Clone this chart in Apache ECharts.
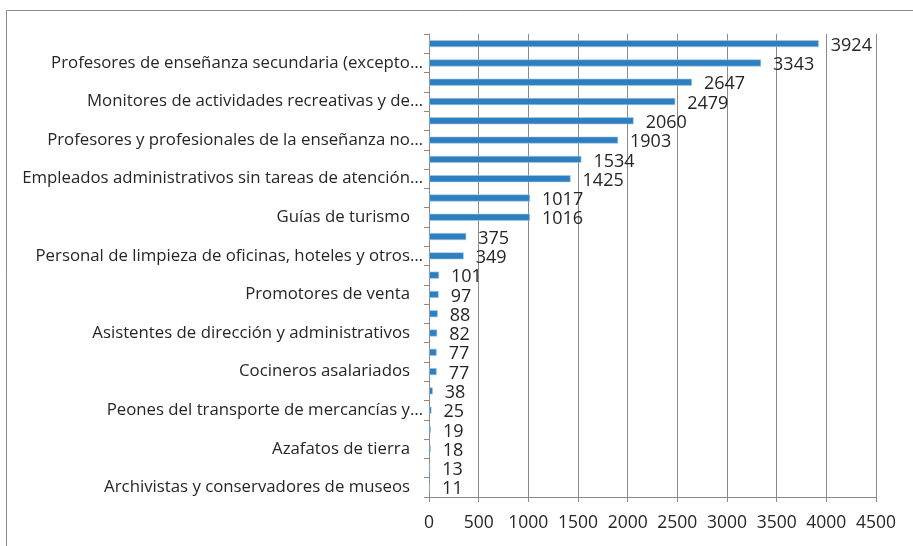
<!DOCTYPE html>
<html>
<head>
<meta charset="utf-8">
<script src="https://cdn.jsdelivr.net/npm/echarts@6/dist/echarts.min.js"></script>
<style>
html,body{margin:0;padding:0;background:#fff;}
#chart{width:913px;height:546px;}
</style>
</head>
<body>
<div id="chart"></div>
<script>
const categories = [
  '',
  'Profesores de enseñanza secundaria (excepto…',
  '',
  'Monitores de actividades recreativas y de…',
  '',
  'Profesores y profesionales de la enseñanza no…',
  '',
  'Empleados administrativos sin tareas de atención…',
  '',
  'Guías de turismo',
  '',
  'Personal de limpieza de oficinas, hoteles y otros…',
  '',
  'Promotores de venta',
  '',
  'Asistentes de dirección y administrativos',
  '',
  'Cocineros asalariados',
  '',
  'Peones del transporte de mercancías y…',
  '',
  'Azafatos de tierra',
  '',
  'Archivistas y conservadores de museos'
];
const values = [3924, 3343, 2647, 2479, 2060, 1903, 1534, 1425, 1017, 1016, 375, 349, 101, 97, 88, 82, 77, 77, 38, 25, 19, 18, 13, 11];
const xTicks = [0, 500, 1000, 1500, 2000, 2500, 3000, 3500, 4000, 4500];

const chart = echarts.init(document.getElementById('chart'));
const gray = '#8a8a8a';
const textColor = '#262626';
const font = '"Open Sans", "Noto Sans", sans-serif';
const catSize = 16.8;

chart.setOption({
  animation: false,
  backgroundColor: '#fff',
  graphic: [{
    type: 'rect',
    shape: {x: 6.5, y: 10.5, width: 1000, height: 1000},
    style: {fill: 'none', stroke: gray, lineWidth: 1},
    silent: true
  }],
  grid: {left: 429, right: 37, top: 34, bottom: 49, containLabel: false},
  xAxis: {
    type: 'value',
    min: xTicks[0],
    max: xTicks[xTicks.length - 1],
    interval: xTicks[1] - xTicks[0],
    axisLine: {show: true, lineStyle: {color: gray, width: 1}},
    axisTick: {show: true, length: 5, lineStyle: {color: gray}},
    splitLine: {show: true, lineStyle: {color: gray, width: 1}},
    axisLabel: {color: textColor, fontSize: 17.5, fontFamily: font, margin: 17,
      formatter: function (v) { return String(v); }}
  },
  yAxis: {
    type: 'category',
    data: categories,
    inverse: true,
    axisLine: {show: true, lineStyle: {color: gray, width: 1}},
    axisTick: {show: true, interval: 0, length: 5, lineStyle: {color: gray}},
    axisLabel: {
      interval: 0,
      color: textColor,
      fontSize: catSize,
      fontFamily: font,
      margin: 6,
      formatter: function (name) {
        if (!name) return '';
        return name.endsWith('…') ? '{t|' + name + '}' : '{p|' + name + '}';
      },
      rich: {
        t: {color: textColor, fontSize: catSize, fontFamily: font},
        p: {color: textColor, fontSize: catSize, fontFamily: font, padding: [0, 13, 0, 0]}
      }
    },
    splitLine: {show: false}
  },
  series: [{
    type: 'bar',
    data: values,
    barWidth: 7,
    itemStyle: {color: '#2e7fc0', borderColor: '#a7c8e6', borderWidth: 0.6},
    label: {
      show: true,
      position: 'right',
      distance: 12,
      color: textColor,
      fontSize: 18,
      fontFamily: font,
      offset: [0, 2]
    }
  }]
});
</script>
</body>
</html>
